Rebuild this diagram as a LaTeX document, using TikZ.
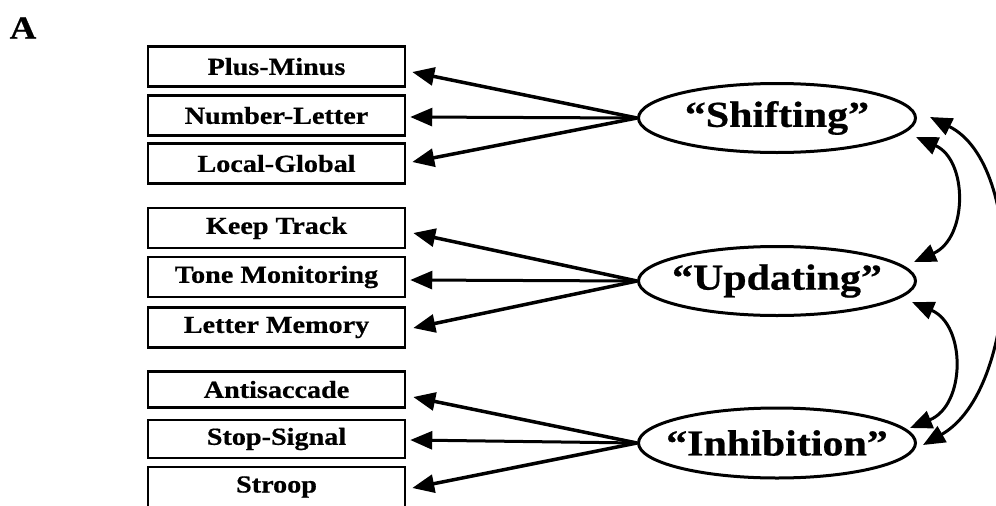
\documentclass[tikz,border=0pt]{standalone}
\usepackage{fontspec}
\newfontfamily\lab{Liberation Serif}[FakeStretch=1.15, BoldFeatures={FakeBold=0.6}]
\usetikzlibrary{arrows.meta,shapes.geometric}
\begin{document}
\begin{tikzpicture}[x=1pt,y=-1pt,
  box/.style={draw, line width=2.5pt, minimum width=257pt, minimum height=40pt, inner sep=0pt,
              font=\lab\bfseries\fontsize{24.5}{24.5}\selectfont},
  fac/.style={draw, ellipse, line width=3pt, minimum width=277pt, minimum height=69pt, inner sep=0pt},
  factext/.style={inner sep=0pt, font=\lab\bfseries\fontsize{36.5}{36.5}\selectfont},
  load/.style={-{Triangle[length=22pt,width=18pt]}, line width=3.5pt},
  loadm/.style={-{Triangle[length=22pt,width=18pt]}, line width=3pt},
  corr/.style={{Triangle[length=22pt,width=18pt]}-{Triangle[length=22pt,width=18pt]}, line width=3pt}]
\useasboundingbox (0,0) rectangle (996,506);
\clip (0,0) rectangle (996,506);

\node[font=\lab\bfseries\fontsize{32}{32}\selectfont] (lbl) at (23,28) {A};

% boxes
\node[box] (b1) at (276.5,66.5) {Plus-Minus};
\node[box] (b2) at (276.5,115.5) {Number-Letter};
\node[box] (b3) at (276.5,163.5) {Local-Global};
\node[box] (b4) at (276.5,228) {Keep Track};
\node[box] (b5) at (276.5,277) {Tone Monitoring};
\node[box] (b6) at (276.5,327.5) {Letter Memory};
\node[box, minimum height=36pt] (b7) at (276.5,389.5) {Antisaccade};
\node[box, minimum height=38pt] (b8) at (276.5,439) {Stop-Signal};
\node[box] (b9) at (276.5,487) {Stroop};

% factors
\node[fac] (sh) at (777,118) {};
\node[factext] (sht) at (sh) {“Shifting”};
\node[fac] (up) at (777,281) {};
\node[factext] (upt) at (up) {“Updating”};
\node[fac, minimum height=70pt] (in) at (777,443) {};
\node[factext] (int) at (in) {“Inhibition”};

% loadings
\draw[load]  (sh.west) -- ([xshift=6pt,yshift=-5.5pt]b1.east);
\draw[loadm] (sh.west) -- ([xshift=4pt,yshift=-1.5pt]b2.east);
\draw[load]  (sh.west) -- ([xshift=6pt,yshift=1.5pt]b3.east);
\draw[load]  (up.west) -- ([xshift=7pt,yshift=-5pt]b4.east);
\draw[loadm] (up.west) -- ([xshift=4pt,yshift=-3pt]b5.east);
\draw[load]  (up.west) -- ([xshift=7pt,yshift=-0.5pt]b6.east);
\draw[load]  (in.west) -- ([xshift=7pt,yshift=-7.5pt]b7.east);
\draw[loadm] (in.west) -- ([xshift=4pt,yshift=-1pt]b8.east);
\draw[load]  (in.west) -- ([xshift=6pt,yshift=-1pt]b9.east);

% correlations
\coordinate (s1) at (916,137);
\coordinate (u1) at (914,262);
\coordinate (u2) at (912,302);
\coordinate (i1) at (910,428);
\coordinate (s2) at (930,117);
\coordinate (i2) at (923,445);
\draw[corr] (s1) .. controls (968,160) and (968,238) .. (u1);
\draw[corr] (u2) .. controls (966,325) and (966,405) .. (i1);
\draw[corr] (s2) .. controls (1027,165) and (1020,390) .. (i2);
\end{tikzpicture}
\end{document}
